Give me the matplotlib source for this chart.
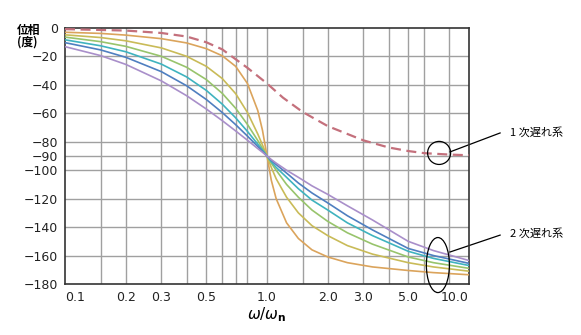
import matplotlib.pyplot as plt
from matplotlib.patches import Ellipse
from matplotlib.lines import Line2D

plt.rcParams['font.family'] = ['DejaVu Sans', 'Noto Sans CJK JP']

# frequency ratio w/wn
freq = [0.1, 0.15, 0.2, 0.3, 0.4, 0.5, 0.6, 0.7, 0.8, 0.9, 0.95, 1.0,
        1.05, 1.11, 1.25, 1.43, 1.67, 2.0, 2.5, 3.33, 5.0, 6.67, 10.0]

# 2nd order lag curves (phase, deg)
orange = [-3, -3.8, -5, -7.5, -10.5, -14.5, -19.5, -27, -39, -58, -72, -90,
          -107, -120, -137, -148, -156, -161, -165, -168, -170.5, -172, -173.5]
yellow = [-4.8, -6.7, -9, -14, -19.9, -26.9, -35.5, -46.2, -59.4, -74.5, -82.3, -90,
          -98, -106, -119, -130, -139, -146, -153, -159, -165, -168, -171]
green = [-6.4, -9.6, -12.9, -19.9, -27.6, -36.2, -45.9, -56.5, -67.8, -79.1, -84.7, -90,
         -95, -100, -110, -119, -128, -136, -144, -152, -161, -165, -169]
teal = [-8.3, -12.5, -16.7, -25.4, -34.4, -43.8, -53.5, -63.2, -72.7, -81.7, -85.9, -90,
        -94, -98, -105, -113, -121, -128, -137, -146, -157, -162, -167]
blue = [-10.3, -15.4, -20.6, -30.7, -40.6, -50.2, -59.4, -68, -76, -83.3, -86.7, -90,
        -93, -96, -102, -109, -116, -123, -132, -142, -155, -160, -165.5]
purple = [-13.1, -19.4, -25.6, -37.2, -47.6, -56.9, -65.1, -72.4, -78.9, -84.8, -87.4, -90,
          -92.5, -95, -100, -105, -111, -117, -125, -135, -150, -156.5, -163.5]

# 1st order lag curve
first_freq = [0.1, 0.2, 0.3, 0.4, 0.5, 0.6, 0.7, 0.8, 1.0, 1.2, 1.5, 2.0,
              3.0, 4.0, 5.0, 6.0, 8.0, 10.0]
first_phase = [-0.8, -1.8, -3.5, -6, -10, -15, -22, -28, -39, -49, -59, -69,
               -79, -84, -86.5, -88, -89, -89.5]

second_curves = [orange, yellow, green, teal, blue, purple]
colors = ['#dba45c', '#c9bb58', '#98c46c', '#3fb3bf', '#4f7fc0', '#a98fca']

xtick_vals = [0.1, 0.2, 0.3, 0.5, 1.0, 2.0, 3.0, 5.0, 10.0]
xtick_labels = ['0.1', '0.2', '0.3', '0.5', '1.0', '2.0', '3.0', '5.0', '10.0']
xgrid_vals = [0.15, 0.2, 0.3, 0.4, 0.5, 0.6, 0.7, 0.8, 1.0, 1.5, 2.0, 3.0, 4.0, 5.0, 6.0, 8.0]
ytick_vals = [0, -20, -40, -60, -80, -90, -100, -120, -140, -160, -180]

fig = plt.figure(figsize=(5.81, 3.35), dpi=100)
ax = fig.add_axes([65 / 581, 1 - 284 / 335, 404 / 581, 256 / 335])

ax.set_xscale('log')
ax.set_xlim(0.1, 10.0)
ax.set_ylim(-180, 0)

for g in xgrid_vals:
    ax.axvline(g, color='#a0a0a0', lw=1.0, zorder=1)
for g in ytick_vals[1:-1]:
    ax.axhline(g, color='#a0a0a0', lw=1.0, zorder=1)

for vals, c in zip(second_curves, colors):
    ax.plot(freq, vals, color=c, lw=1.2, zorder=3)

ax.plot(first_freq, first_phase, color='#c4707c', lw=1.6, dashes=(4.5, 2.5), zorder=4)

ax.set_xticks(xtick_vals)
ax.set_xticklabels(xtick_labels)
ax.minorticks_off()
ax.set_yticks(ytick_vals)
ax.set_yticklabels(['0' if v == 0 else '\u2212' + str(-v) for v in ytick_vals])
ax.tick_params(length=0, labelsize=9, colors='#222222', pad=5)
xl = ax.get_xticklabels()
xl[0].set_ha('left')
xl[-1].set_ha('right')

for s in ax.spines.values():
    s.set_color('#333333')
    s.set_linewidth(1.2)

ax.set_xlabel(r'$\omega/\omega_{\mathbf{n}}$', fontsize=11, labelpad=1)

fig.text(17 / 581, 1 - 30 / 335, '位相', fontsize=8.5, family=['Noto Sans CJK JP'],
         va='center', ha='left', fontweight='bold')
fig.text(17 / 581, 1 - 42 / 335, '(度)', fontsize=8.5, family=['Noto Sans CJK JP'],
         va='center', ha='left', fontweight='bold')

# callouts
ax.add_patch(Ellipse((0.926, 0.512), 0.057, 0.09, transform=ax.transAxes,
                     fill=False, ec='black', lw=0.9, clip_on=False, zorder=5))
ax.add_patch(Ellipse((0.923, 0.074), 0.057, 0.215, transform=ax.transAxes,
                     fill=False, ec='black', lw=0.9, clip_on=False, zorder=5))
ax.add_line(Line2D([0.953, 1.077], [0.516, 0.590], transform=ax.transAxes,
                   color='black', lw=0.9, clip_on=False))
ax.add_line(Line2D([0.953, 1.077], [0.125, 0.191], transform=ax.transAxes,
                   color='black', lw=0.9, clip_on=False))
ax.text(1.101, 0.594, '1 次遅れ系', transform=ax.transAxes, fontsize=8,
        family=['Noto Sans CJK JP'], va='center', ha='left')
ax.text(1.101, 0.199, '2 次遅れ系', transform=ax.transAxes, fontsize=8,
        family=['Noto Sans CJK JP'], va='center', ha='left')

fig.savefig('out.png', dpi=100, facecolor='white')
